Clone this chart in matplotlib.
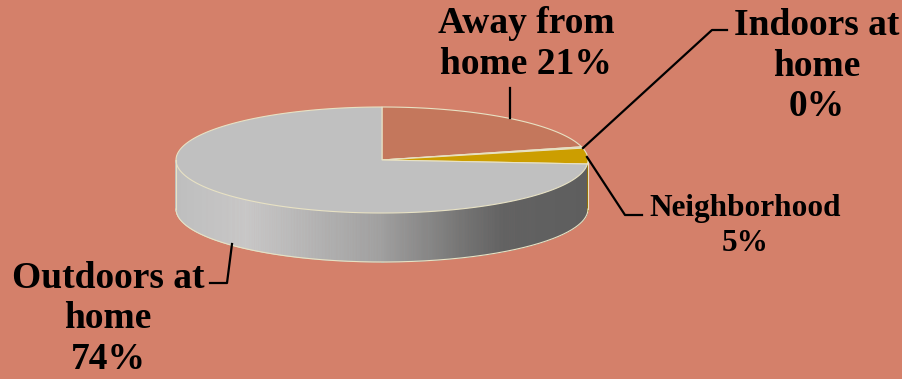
import numpy as np
import matplotlib.pyplot as plt
from matplotlib.patches import Polygon
from matplotlib.colors import LinearSegmentedColormap

# data
labels = ['Away from\nhome', 'Indoors at\nhome', 'Neighborhood', 'Outdoors at\nhome']
values = [21.0, 0.4, 4.8, 73.8]
colors = ['#C4775C', '#C0C0C0', '#CC9E00', '#C0C0C0']
side_colors = ['#9A5A44', '#8A8A8A', '#8C6C00', None]

BG = '#D4806A'
EDGE = '#E8E2C4'

fig = plt.figure(figsize=(9.03, 3.79), dpi=100)
fig.patch.set_facecolor(BG)
ax = fig.add_axes([0, 0, 1, 1])
ax.set_xlim(0, 903)
ax.set_ylim(379, 0)
ax.axis('off')

# 3d pie geometry (pixels)
cx, cy = 382, 160
a, b = 206, 53
depth = 49


def pt(theta, dy=0):
    return cx + a * np.cos(theta), cy - b * np.sin(theta) + dy


# slice angles, start at 12 o'clock going clockwise
fr = np.array(values) / sum(values)
ends = np.pi / 2 - 2 * np.pi * np.cumsum(fr)
starts = np.concatenate([[np.pi / 2], ends[:-1]])

# side wall, front half only, shaded left to right
grey = LinearSegmentedColormap.from_list(
    'g', [(0, '#BEBEBE'), (0.17, '#C8C8C8'), (0.5, '#A0A0A0'),
          (0.71, '#727272'), (0.8, '#626262'), (1, '#5E5E5E')])
th = np.linspace(np.pi, 2 * np.pi, 400)
for t0, t1 in zip(th[:-1], th[1:]):
    tm = 0.5 * (t0 + t1)
    # which slice owns this angle
    tt = tm - 2 * np.pi
    col = None
    for s, e, sc in zip(starts, ends, side_colors):
        if e <= tt <= s and sc is not None:
            col = sc
    if col is None:
        xm = cx + a * np.cos(tm)
        col = grey(np.clip((xm - (cx - a)) / (2 * a), 0, 1))
    p = [pt(t0), pt(t1), pt(t1, depth), pt(t0, depth)]
    ax.add_patch(Polygon(p, closed=True, facecolor=col, edgecolor=col, lw=0.6))

bot = np.array([pt(t, depth) for t in th])
ax.plot(bot[:, 0], bot[:, 1], color=EDGE, lw=0.8)
ax.plot([cx - a, cx - a], [cy, cy + depth], color=EDGE, lw=0.8)
ax.plot([cx + a, cx + a], [cy, cy + depth], color=EDGE, lw=0.8)

# top faces
for s, e, c in zip(starts, ends, colors):
    t = np.linspace(s, e, 200)
    p = [(cx, cy)] + [pt(v) for v in t]
    ax.add_patch(Polygon(p, closed=True, facecolor=c, edgecolor=EDGE, lw=0.8))

# labels and leader lines
font = dict(family='Liberation Serif', weight='bold', color='black',
            ha='center', va='center')
pct = [f'{v:.0f}%' for v in values]

ax.text(526, 44, labels[0].split('\n')[0] + '\n' + labels[0].split('\n')[1] + ' ' + pct[0],
        fontsize=27, linespacing=1.2, **font)
ax.plot([510, 510], [88, 118], color='black', lw=1.6)

ax.text(817, 66, labels[1] + '\n' + pct[1], fontsize=27, linespacing=1.2, **font)
ax.plot([583, 712, 727], [148, 30, 30], color='black', lw=1.6)

ax.text(745, 226, labels[2] + '\n' + pct[2], fontsize=22.5, linespacing=1.3, **font)
ax.plot([587, 625, 642], [157, 215, 215], color='black', lw=1.6)

ax.text(108, 319, labels[3] + '\n' + pct[3], fontsize=27, linespacing=1.2, **font)
ax.plot([232, 227, 210], [244, 283, 283], color='black', lw=1.6)

fig.savefig('out.png', dpi=100, facecolor=BG)
